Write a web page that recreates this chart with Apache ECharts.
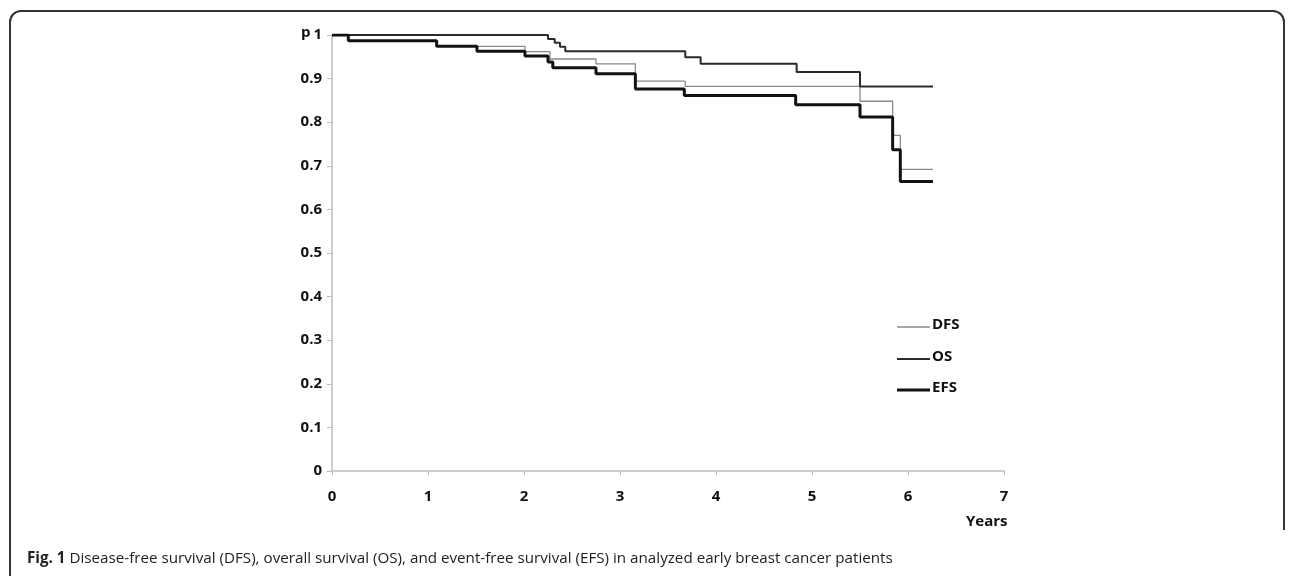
<!DOCTYPE html>
<html><head><meta charset="utf-8">
<script src="https://cdn.jsdelivr.net/npm/echarts@6/dist/echarts.min.js"></script>
<style>
html,body{margin:0;padding:0;background:#fff;width:1292px;height:576px;overflow:hidden;position:relative;}
#frame{position:absolute;left:9px;top:10px;width:1276px;height:520px;border:2px solid #333;border-bottom:none;border-radius:12px 12px 0 0;box-sizing:border-box;}
#leftline{position:absolute;left:9px;top:20px;width:2px;height:560px;background:#333;}
#chart{position:absolute;left:0;top:0;width:1292px;height:576px;}
#caption{position:absolute;left:27px;top:547px;font-family:"Open Sans",sans-serif;font-size:15.2px;color:#222;white-space:nowrap;}
#caption b{font-weight:700;}
</style></head><body>
<div id="frame"></div><div id="leftline"></div>
<div id="chart"></div>
<div id="caption"><b>Fig. 1</b> Disease-free survival (DFS), overall survival (OS), and event-free survival (EFS) in analyzed early breast cancer patients</div>
<script>
const seriesNames = ['DFS', 'OS', 'EFS'];
const xTicks = [0, 1, 2, 3, 4, 5, 6, 7];
const yTicks = [0, 0.1, 0.2, 0.3, 0.4, 0.5, 0.6, 0.7, 0.8, 0.9, 1];

const dfsTimes  = [0, 0.17, 1.09, 2.01, 2.27, 2.75, 3.16, 3.68, 5.50, 5.84, 5.92, 6.26];
const dfsValues = [1, 0.987, 0.974, 0.962, 0.945, 0.934, 0.894, 0.882, 0.848, 0.770, 0.692, 0.692];

const osTimes  = [0, 2.25, 2.32, 2.375, 2.43, 3.68, 3.84, 4.84, 5.50, 6.26];
const osValues = [1, 0.991, 0.982, 0.973, 0.963, 0.949, 0.934, 0.915, 0.882, 0.882];

const efsTimes  = [0, 0.17, 1.09, 1.51, 2.01, 2.25, 2.30, 2.75, 3.16, 3.67, 4.83, 5.50, 5.84, 5.92, 6.26];
const efsValues = [1, 0.987, 0.974, 0.963, 0.952, 0.938, 0.925, 0.911, 0.876, 0.861, 0.840, 0.812, 0.737, 0.664, 0.664];

const pair = (t, v) => t.map((x, i) => [x, v[i]]);
const chart = echarts.init(document.getElementById('chart'));
const labelFont = {fontFamily: 'Open Sans', fontWeight: 'bold', fontSize: 15, color: '#111'};

const legendItems = [
  {name: seriesNames[0], color: '#8a8a8a', w: 1.3, y: 327},
  {name: seriesNames[1], color: '#2a2a2a', w: 2, y: 359},
  {name: seriesNames[2], color: '#111', w: 3, y: 390}
];
const graphics = [];
legendItems.forEach(it => {
  graphics.push({type: 'line', shape: {x1: 897, y1: it.y, x2: 930, y2: it.y}, style: {stroke: it.color, lineWidth: it.w}});
  graphics.push({type: 'text', left: 932, top: it.y - 10, style: {text: it.name, font: 'bold 15px "Open Sans"', fill: '#111'}});
});
graphics.push({type: 'text', left: 301, top: 25, style: {text: 'p', font: 'bold 15px "Open Sans"', fill: '#111'}});
graphics.push({type: 'text', left: 966, top: 514, style: {text: 'Years', font: 'bold 15px "Open Sans"', fill: '#111'}});

chart.setOption({
  animation: false,
  grid: {left: 332, right: 288, top: 35, bottom: 105},
  xAxis: {
    type: 'value', min: 0, max: 7, interval: 1,
    axisLine: {lineStyle: {color: '#bdbdbd', width: 1.5}},
    axisTick: {show: true, length: 4, lineStyle: {color: '#bdbdbd'}},
    splitLine: {show: false},
    axisLabel: Object.assign({margin: 18, formatter: v => xTicks.includes(v) ? String(v) : ''}, labelFont)
  },
  yAxis: {
    type: 'value', min: 0, max: 1, interval: 0.1,
    axisLine: {show: true, lineStyle: {color: '#bdbdbd', width: 1.5}},
    axisTick: {show: true, length: 5, lineStyle: {color: '#bdbdbd'}},
    splitLine: {show: false},
    axisLabel: Object.assign({margin: 10, formatter: v => {
      const t = yTicks.find(y => Math.abs(y - v) < 1e-6);
      return t === undefined ? '' : String(t);
    }}, labelFont)
  },
  series: [
    {name: seriesNames[0], type: 'line', step: 'end', showSymbol: false, data: pair(dfsTimes, dfsValues), lineStyle: {color: '#8a8a8a', width: 1.3}, z: 2},
    {name: seriesNames[1], type: 'line', step: 'end', showSymbol: false, data: pair(osTimes, osValues), lineStyle: {color: '#2a2a2a', width: 2}, z: 3},
    {name: seriesNames[2], type: 'line', step: 'end', showSymbol: false, data: pair(efsTimes, efsValues), lineStyle: {color: '#111', width: 3}, z: 4}
  ],
  graphic: graphics
});
</script>
</body></html>
